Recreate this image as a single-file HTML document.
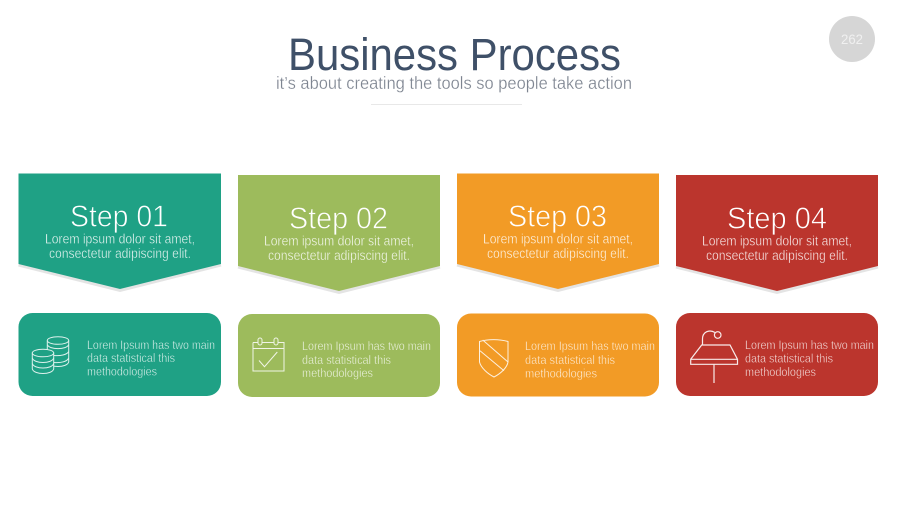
<!DOCTYPE html>
<html><head><meta charset="utf-8"><style>
html,body{margin:0;padding:0;background:#fff;width:900px;height:506px;overflow:hidden}
svg{display:block}
text{font-family:"Liberation Sans",sans-serif}
.s{font-size:31px;fill:#fff;stroke-width:.75}
.l{font-size:13.4px;fill:#fff;stroke-width:.3;opacity:.9}
.b{font-size:12.2px;fill:#fff;stroke-width:.3;opacity:.85}
.t1{stroke:#1fa185}.t2{stroke:#9dbb5c}.t3{stroke:#f29b26}.t4{stroke:#bb352d}
.i{fill:none;stroke:#fff;stroke-width:1;opacity:.85}
</style></head><body>
<svg width="900" height="506" viewBox="0 0 900 506" xmlns="http://www.w3.org/2000/svg">
<rect width="900" height="506" fill="#fff"/>
<circle cx="852" cy="39" r="23" fill="#d6d6d6"/>
<text x="841" y="44" font-size="14" fill="#f0f0f0" textLength="22" lengthAdjust="spacingAndGlyphs">262</text>
<text x="288" y="70" font-size="45" fill="#3f5068" textLength="333" lengthAdjust="spacingAndGlyphs">Business Process</text>
<text x="276" y="89" font-size="17.5" fill="#7d8490" stroke="#fff" stroke-width=".25" textLength="356" lengthAdjust="spacingAndGlyphs">it’s about creating the tools so people take action</text>
<rect x="371" y="104" width="151" height="1" fill="#e8e8e8"/>

<!-- shadows -->
<g fill="none" stroke="#e4e4e4" stroke-width="3">
<path d="M18.5 265L120 290.500L221 265"/>
<path d="M238 267L339 292.500L440 267"/>
<path d="M457 265L558 290.500L659 265"/>
<path d="M676 267L777 292.500L878 267"/>
</g>

<!-- Step 1 -->
<path d="M18.500 173.500H221V264L120 289L18.500 264Z" fill="#1fa185"/>
<text x="70" y="226.500" class="s t1" textLength="98" lengthAdjust="spacingAndGlyphs">Step 01</text>
<text x="45" y="243.500" class="l t1" textLength="150" lengthAdjust="spacingAndGlyphs">Lorem ipsum dolor sit amet,</text>
<text x="49" y="258" class="l t1" textLength="142" lengthAdjust="spacingAndGlyphs">consectetur adipiscing elit.</text>
<rect x="18.500" y="313" width="202.500" height="83" rx="14" fill="#1fa185"/>
<g class="i">
<ellipse cx="58" cy="340.500" rx="10.700" ry="3.800"/>
<path d="M47.300 340.500V362C49 368 67 368 68.700 362V340.500M47.300 344.500C49 350 67 350 68.700 344.500M54 355.500C60 356 67 355 68.700 351.500M54 362.500C60 363 67 362 68.700 358"/>
<path d="M32.300 353V369C34 375 52 375 53.700 369V353Z" fill="#1fa185"/>
<ellipse cx="43" cy="353" rx="10.700" ry="3.800" fill="#1fa185"/>
<path d="M32.300 358C34 364 52 364 53.700 358M32.300 363.500C34 369.500 52 369.500 53.700 363.500"/>
</g>
<text x="87" y="349" class="b t1" textLength="128" lengthAdjust="spacingAndGlyphs">Lorem Ipsum has two main</text>
<text x="87" y="362" class="b t1" textLength="88" lengthAdjust="spacingAndGlyphs">data statistical this</text>
<text x="87" y="375.500" class="b t1" textLength="70" lengthAdjust="spacingAndGlyphs">methodologies</text>

<!-- Step 2 -->
<path d="M238 175H440V266L339 291L238 266Z" fill="#9dbb5c"/>
<text x="289" y="228.500" class="s t2" textLength="99" lengthAdjust="spacingAndGlyphs">Step 02</text>
<text x="264" y="245.500" class="l t2" textLength="150" lengthAdjust="spacingAndGlyphs">Lorem ipsum dolor sit amet,</text>
<text x="268" y="260" class="l t2" textLength="142" lengthAdjust="spacingAndGlyphs">consectetur adipiscing elit.</text>
<rect x="238" y="314" width="202" height="83" rx="14" fill="#9dbb5c"/>
<g class="i">
<path d="M253 342.500H258M262 342.500H274M278 342.500H284V371H253V342.500M253 348.500H284M259 360.500L264.500 366.700L277.300 352"/>
<rect x="258" y="338" width="4" height="7" rx="2"/>
<rect x="274" y="338" width="4" height="7" rx="2"/>
</g>
<text x="302" y="350" class="b t2" textLength="129" lengthAdjust="spacingAndGlyphs">Lorem Ipsum has two main</text>
<text x="302" y="364" class="b t2" textLength="89" lengthAdjust="spacingAndGlyphs">data statistical this</text>
<text x="302" y="377" class="b t2" textLength="71" lengthAdjust="spacingAndGlyphs">methodologies</text>

<!-- Step 3 -->
<path d="M457 173.500H659V264L558 289L457 264Z" fill="#f29b26"/>
<text x="508" y="226.500" class="s t3" textLength="99" lengthAdjust="spacingAndGlyphs">Step 03</text>
<text x="483" y="243.500" class="l t3" textLength="150" lengthAdjust="spacingAndGlyphs">Lorem ipsum dolor sit amet,</text>
<text x="487" y="258" class="l t3" textLength="142" lengthAdjust="spacingAndGlyphs">consectetur adipiscing elit.</text>
<rect x="457" y="313.500" width="202" height="83" rx="14" fill="#f29b26"/>
<g class="i">
<path d="M479.500 341.500C488 339 499 339 508 341.500V362C507 368 500 374 494 377C488 374 481 368 479.500 362ZM482.700 340L507.700 361.700M480 350.700L504 370.700"/>
</g>
<text x="525" y="350" class="b t3" textLength="130" lengthAdjust="spacingAndGlyphs">Lorem Ipsum has two main</text>
<text x="525" y="364" class="b t3" textLength="90" lengthAdjust="spacingAndGlyphs">data statistical this</text>
<text x="525" y="377.500" class="b t3" textLength="72" lengthAdjust="spacingAndGlyphs">methodologies</text>

<!-- Step 4 -->
<path d="M676 175H878V266L777 291L676 266Z" fill="#bb352d"/>
<text x="727" y="228.500" class="s t4" textLength="100" lengthAdjust="spacingAndGlyphs">Step 04</text>
<text x="702" y="245.500" class="l t4" textLength="150" lengthAdjust="spacingAndGlyphs">Lorem ipsum dolor sit amet,</text>
<text x="706" y="260" class="l t4" textLength="142" lengthAdjust="spacingAndGlyphs">consectetur adipiscing elit.</text>
<rect x="676" y="313" width="202" height="83" rx="14" fill="#bb352d"/>
<g class="i" style="stroke-width:1.200;opacity:.9">
<path d="M690.700 359.300L701.700 345H730L737.500 359.300V364.300H690.700ZM690.700 359.300H737.500M714 364.300V383M702.500 345V339C702.500 332 709 329 715 332.500"/>
<circle cx="717.700" cy="335" r="3.300"/>
</g>
<text x="745" y="349" class="b t4" textLength="129" lengthAdjust="spacingAndGlyphs">Lorem Ipsum has two main</text>
<text x="745" y="362.500" class="b t4" textLength="88" lengthAdjust="spacingAndGlyphs">data statistical this</text>
<text x="745" y="376" class="b t4" textLength="71" lengthAdjust="spacingAndGlyphs">methodologies</text>
</svg>
</body></html>
